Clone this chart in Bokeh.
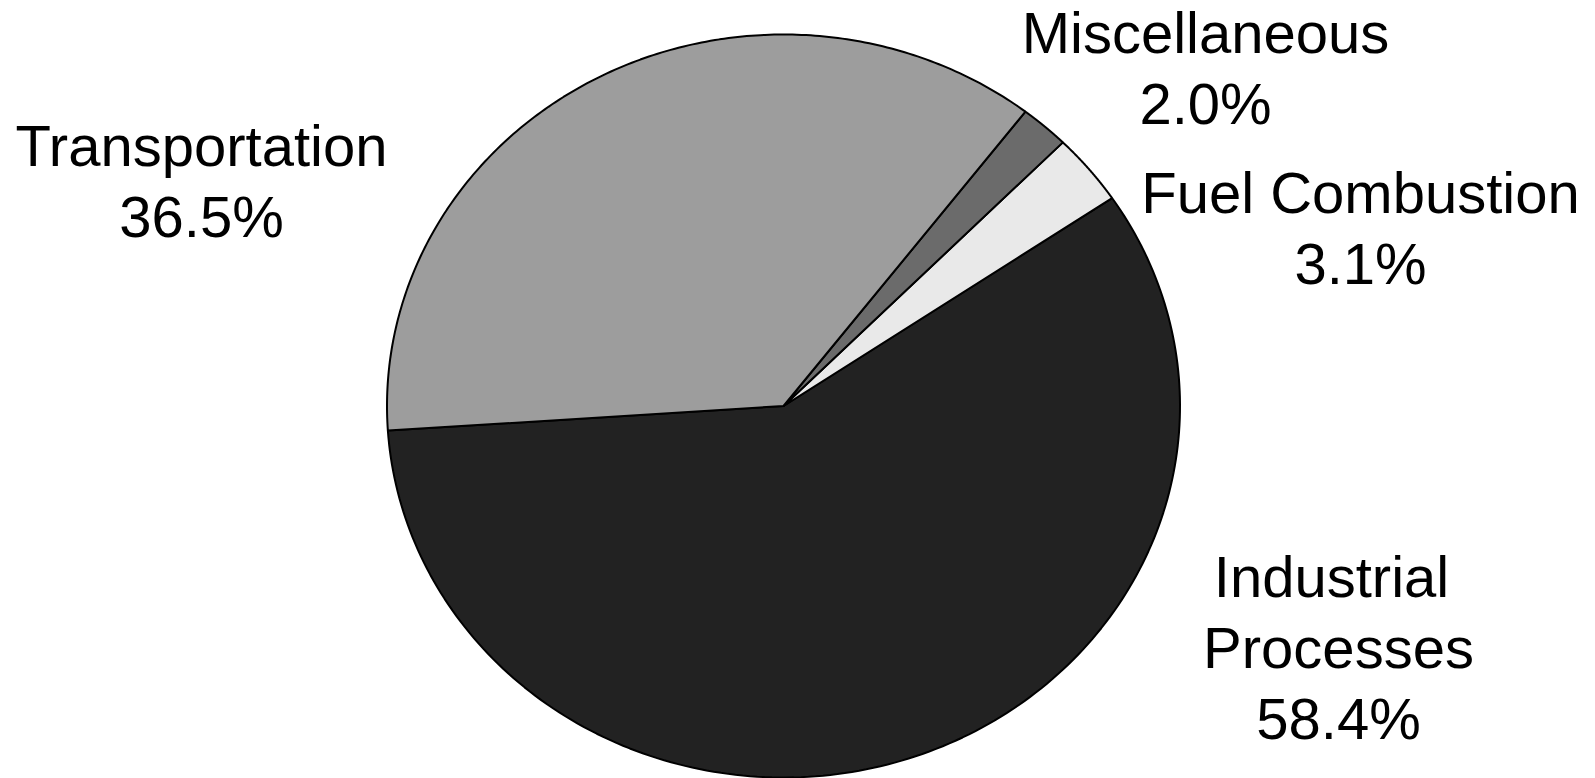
import numpy as np
from bokeh.plotting import figure
from bokeh.models import ColumnDataSource, Range1d
from bokeh.core.properties import value
from bokeh.embed import file_html
from bokeh.resources import INLINE

# Emission shares by source category (percent)
categories = ["Industrial Processes", "Fuel Combustion", "Miscellaneous", "Transportation"]
shares = [58.4, 3.1, 2.0, 36.5]
label_lines = [["Industrial", "Processes"], ["Fuel Combustion"], ["Miscellaneous"], ["Transportation"]]
colors = ["#222222", "#e9e9e9", "#6b6b6b", "#9d9d9d"]

W, H = 1595, 778
p = figure(width=W, height=H, output_backend="svg", toolbar_location=None,
           x_range=Range1d(0, W), y_range=Range1d(H, 0), min_border=0)
p.axis.visible = False
p.grid.visible = False
p.outline_line_color = None
p.background_fill_color = "white"
p.border_fill_color = "white"

# Elliptical pie geometry (screen-like units, y grows downward)
cx, cy, rx, ry = 783.0, 405.5, 396.5, 371.5
start_deg = 183.8

fracs = np.array(shares) / np.sum(shares)
edges = start_deg + 360.0 * np.concatenate([[0.0], np.cumsum(fracs)])

xs, ys = [], []
for a0, a1 in zip(edges[:-1], edges[1:]):
    t = np.radians(np.linspace(a0, a1, 200))
    xs.append([cx] + list(cx + rx * np.cos(t)) + [cx])
    ys.append([cy] + list(cy - ry * np.sin(t)) + [cy])

src = ColumnDataSource(dict(xs=xs, ys=ys, fill=colors, name=categories))
p.patches("xs", "ys", source=src, fill_color="fill", line_color="black", line_width=2)

# Label anchors: centre x and first text line y for each category's block
anchors = [(1338, 576), (1360, 192), (1205, 32), (201, 145)]
line_step = 71
# the first line of the industrial label sits a little left of the block centre
line_dx = {("Industrial Processes", 0): -7}

tx, ty, tt = [], [], []
for cat, lines, share, (ax, ay) in zip(categories, label_lines, shares, anchors):
    block = lines + [f"{share:.1f}%"]
    for i, s in enumerate(block):
        tx.append(ax + line_dx.get((cat, i), 0))
        ty.append(ay + i * line_step)
        tt.append(s)

p.text(x=tx, y=ty, text=tt, text_font=value("Liberation Sans"), text_font_size="58px",
       text_align="center", text_baseline="alphabetic", text_color="black")

open("out.html", "w").write(file_html(p, INLINE))
